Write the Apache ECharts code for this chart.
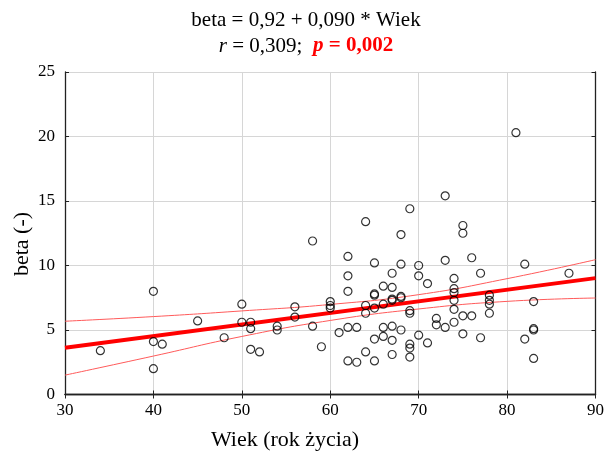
<!DOCTYPE html>
<html>
<head>
<meta charset="utf-8">
<script src="https://cdn.jsdelivr.net/npm/echarts@6/dist/echarts.min.js"></script>
<style>html,body{margin:0;padding:0;background:#fff}#c{width:607px;height:458px}</style>
</head>
<body>
<div id="c"></div>
<script>
var ages = [34,40,40,41,40,45,48,50,50,51,51,51,52,54,54,56,56,58,58,59,60,60,60,61,62,62,62,62,62,63,63,64,64,64,64,65,65,65,65,65,65,66,66,66,66,67,67,67,67,67,67,67,68,68,68,68,68,69,69,69,69,69,69,70,70,70,71,71,72,72,73,73,73,74,74,74,74,74,74,75,75,75,75,76,76,77,77,78,78,78,78,81,82,82,83,83,83,83,87];
var betas = [3.4,8.0,4.1,3.9,2.0,5.7,4.4,7.0,5.6,5.6,5.1,3.5,3.3,5.3,5.0,6.8,6.0,11.9,5.3,3.7,7.2,6.9,6.7,4.8,10.7,9.2,8.0,5.2,2.6,5.2,2.5,13.4,6.9,6.3,3.3,10.2,7.8,7.7,6.7,4.3,2.6,8.4,7.0,5.2,4.5,9.4,8.3,7.4,7.3,5.3,4.2,3.1,12.4,10.1,7.6,7.5,5.0,14.4,6.5,6.3,3.9,3.6,2.9,10.0,9.2,4.6,8.6,4.0,5.9,5.4,15.4,10.4,5.2,9.0,8.2,7.9,7.3,6.6,5.6,13.1,12.5,6.1,4.7,10.6,6.1,9.4,4.4,7.7,7.3,7.0,6.3,20.3,10.1,4.3,7.2,5.1,5.0,2.8,9.4];
var fitX = [30, 90];
var fitY = [3.62, 9.02];
var bandX = [30,40,50,60,70,80,90];
var bandUpper = [5.68,6.04,6.48,6.98,7.74,8.98,10.45];
var bandLower = [1.5,2.98,4.5,5.74,6.63,7.22,7.48];
var xTicks = [30,40,50,60,70,80,90];
var yTicks = [0,5,10,15,20,25];

function pairs(a, b){ return a.map(function(v,i){ return [v, b[i]]; }); }

var serif = '"Liberation Serif", "Times New Roman", serif';
var chart = echarts.init(document.getElementById('c'), null, {renderer:'canvas'});
var axisCommon = {
  type: 'value',
  axisLine: {show: true, lineStyle: {color: '#222', width: 1.3}},
  axisTick: {show: true, inside: true, length: 4, lineStyle: {color: '#222'}},
  splitLine: {show: false}
};
chart.setOption({
  animation: false,
  grid: {left: 65, right: 9, top: 72, bottom: 63.5, containLabel: false},
  xAxis: [
    Object.assign({}, axisCommon, {
      min: xTicks[0], max: xTicks[xTicks.length-1], interval: 10, position: 'bottom',
      axisLabel: {fontFamily: serif, fontSize: 17, color: '#000', margin: 8},
      splitLine: {show: true, lineStyle: {color: '#d6d6d6', width: 1}}
    }),
    Object.assign({}, axisCommon, {
      min: xTicks[0], max: xTicks[xTicks.length-1], interval: 10, position: 'top',
      axisLabel: {show: false}
    })
  ],
  yAxis: [
    Object.assign({}, axisCommon, {
      min: yTicks[0], max: yTicks[yTicks.length-1], interval: 5, position: 'left',
      axisLabel: {fontFamily: serif, fontSize: 17, color: '#000', margin: 10},
      splitLine: {show: true, lineStyle: {color: '#d6d6d6', width: 1}}
    }),
    Object.assign({}, axisCommon, {
      min: yTicks[0], max: yTicks[yTicks.length-1], interval: 5, position: 'right',
      axisLabel: {show: false}
    })
  ],
  graphic: [
    {type: 'text', x: 306, y: 20, style: {text: 'beta = 0,92 + 0,090 * Wiek', textAlign: 'center', textVerticalAlign: 'middle', font: '21px ' + serif, fill: '#000'}},
    {type: 'text', x: 306, y: 46, style: {
      text: '{i|r} = 0,309;  {pi|p}{pb| = 0,002}', textAlign: 'center', textVerticalAlign: 'middle',
      font: '21px ' + serif, fill: '#000',
      rich: {
        i: {fontStyle: 'italic', fontFamily: serif, fontSize: 21, fill: '#000'},
        pi: {fontStyle: 'italic', fontWeight: 'bold', fontFamily: serif, fontSize: 21, fill: '#ff0000'},
        pb: {fontWeight: 'bold', fontFamily: serif, fontSize: 21, fill: '#ff0000'}
      }
    }},
    {type: 'text', x: 285, y: 440, style: {text: 'Wiek (rok życia)', textAlign: 'center', textVerticalAlign: 'middle', font: '22px ' + serif, fill: '#000'}},
    {type: 'text', x: 22, y: 244, rotation: Math.PI/2, style: {text: 'beta (-)', textAlign: 'center', textVerticalAlign: 'middle', font: '22px ' + serif, fill: '#000'}}
  ],
  series: [
    {type: 'line', data: pairs(bandX, bandUpper), smooth: true, symbol: 'none', lineStyle: {color: '#ff5a5a', width: 1}, z: 2},
    {type: 'line', data: pairs(bandX, bandLower), smooth: true, symbol: 'none', lineStyle: {color: '#ff5a5a', width: 1}, z: 2},
    {type: 'line', data: pairs(fitX, fitY), symbol: 'none', lineStyle: {color: '#ff0000', width: 4}, z: 3},
    {type: 'scatter', data: pairs(ages, betas), symbol: 'circle', symbolSize: 8,
     itemStyle: {color: 'rgba(255,255,255,0)', borderColor: '#000', borderWidth: 1.2}, z: 4}
  ]
});
</script>
</body>
</html>
